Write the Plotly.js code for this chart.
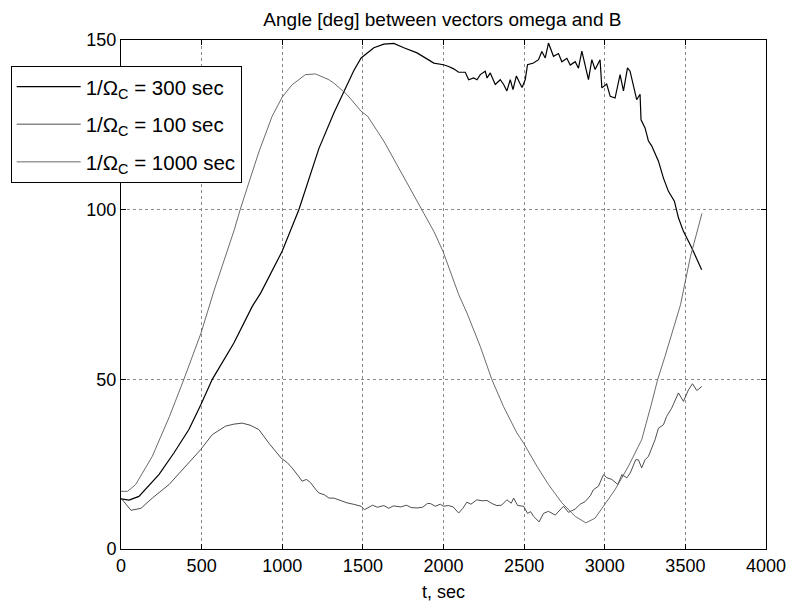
<!DOCTYPE html>
<html>
<head>
<meta charset="utf-8">
<script src="https://cdn.plot.ly/plotly-3.0.1.min.js"></script>
<style>html,body{margin:0;padding:0;background:#fff;}#chart{width:790px;height:607px;}</style>
</head>
<body>
<div id="chart"></div>
<script>
// 1/Omega_C = 300 sec
const t300 = [0,50,111,235,328,421,495,566,700,814,866,1000,1103,1227,1320,1383,1444,1489,1568,1630,1692,1754,1836,1940,2000,2032,2063,2094,2135,2156,2187,2208,2228,2259,2270,2290,2321,2352,2373,2393,2414,2431,2452,2472,2487,2507,2521,2558,2589,2610,2631,2651,2682,2713,2734,2765,2786,2817,2837,2858,2879,2899,2920,2940,2971,2982,3012,3034,3064,3095,3116,3141,3157,3178,3198,3219,3225,3250,3271,3291,3312,3333,3364,3395,3432,3457,3488,3540,3601];
const v300 = [14.8,14.4,15.5,21.9,28.3,35.2,42.5,50,60.7,71.5,75.4,87.8,100,118,128.5,135,141,144.7,147.7,148.8,149,147.7,146.2,143.2,142.7,142.2,141.5,140.5,140.5,138.3,138.8,138.3,139.8,140.8,138.8,140.3,136.9,138.3,136.9,135,138.3,135.4,139.4,137.4,136,138.3,142.7,143.2,144.2,146.6,144.7,149.1,145.2,146,143.6,144.6,142.6,143.6,141.7,146.7,142.6,138.3,144.2,141.3,144.2,135.9,137,133.4,132.9,139.8,135,141.8,140.8,136,132.4,134,126.5,124.1,120.2,118.8,116.7,114.3,109.3,105.4,102.5,97.6,93.6,88.7,82.3];

// 1/Omega_C = 100 sec
const t100 = [0,62,124,194,298,401,494,566,648,700,751,800,855,917,993,1030,1061,1100,1123,1150,1175,1200,1227,1260,1290,1320,1360,1402,1440,1489,1510,1530,1560,1590,1630,1660,1690,1734,1770,1800,1837,1870,1900,1918,1950,1980,2000,2030,2060,2094,2120,2145,2170,2207,2240,2270,2300,2331,2360,2393,2420,2435,2460,2497,2521,2540,2559,2593,2620,2651,2693,2744,2775,2817,2848,2879,2910,2930,2961,2992,3013,3044,3081,3106,3137,3158,3192,3209,3229,3250,3271,3312,3333,3364,3384,3415,3457,3488,3519,3544,3571,3602];
const v100 = [15,11.4,12,15,19,24.4,29.3,33.7,36.2,36.8,37.1,36.5,35.2,31.2,26.8,25.5,23.9,21.5,20,20.5,19.6,18,16.5,16,15,15,14.2,13.6,13.2,12.6,11.6,12.1,12.9,12.3,12.8,12,12.7,12.4,12.9,12.2,12.1,12.3,13.4,13.4,12.6,13.2,12.6,12.8,12.4,10.6,12,13.8,13.2,14.5,14.2,14.3,13.4,12.8,12.9,14.5,13.5,15,12.8,12.6,10.5,11,9.6,8,10.5,11.1,10,12.6,10.8,11.8,13.2,14,15.7,17.5,18.5,21.9,21,20.5,19,21.9,21,22.4,26.3,26.3,23.9,26.3,27.3,32.2,35.6,36.6,39.1,41.5,46,43.5,46.9,48.7,46.7,47.9];

// 1/Omega_C = 1000 sec
const t1000 = [0,41,91,194,300,390,496,578,702,739,800,855,937,1000,1061,1144,1206,1289,1320,1402,1489,1530,1630,1733,1867,1940,1997,2094,2145,2228,2300,2372,2455,2497,2579,2651,2734,2817,2883,2940,2992,3064,3147,3229,3291,3328,3374,3426,3470,3500,3531,3603];
const v1000 = [17,17,19,27.3,39,50,63.6,76.3,94,100,109,117,127.5,133.2,136.8,139.8,140,138.3,137.3,133.9,129,127.5,120.2,111.3,100,93.6,87.7,75,69.6,59.7,49.9,42,34.2,31.2,24.4,19,13.6,9.6,7.7,9.1,12.6,17.5,24.4,32.2,43,49.9,56.8,65.1,72,79,86.1,98.9];

const seriesNames = ['1/\u03A9<sub>C</sub> = 300 sec','1/\u03A9<sub>C</sub> = 100 sec','1/\u03A9<sub>C</sub> = 1000 sec'];
const xTicks = [0,500,1000,1500,2000,2500,3000,3500,4000];
const yTicks = [0,50,100,150];

const FONT = 'Liberation Sans, Arial, Helvetica, sans-serif';

const traces = [
  {x:t300, y:v300, name:seriesNames[0], legendgroup:'a', mode:'lines', line:{color:'#000000', width:1.2}},
  {x:t100, y:v100, name:seriesNames[1], legendgroup:'b', mode:'lines', line:{color:'#3a3a3a', width:0.9}},
  {x:t1000, y:v1000, name:seriesNames[2], legendgroup:'c', mode:'lines', line:{color:'#5a5a5a', width:0.9}}
];

const axisCommon = {
  showline:true, linecolor:'#000', linewidth:1, mirror:'ticks',
  ticks:'inside', ticklen:5, tickcolor:'#000', tickwidth:1,
  showgrid:true, gridcolor:'#8a8a8a', griddash:'dot', gridwidth:1,
  zeroline:false, tickfont:{family:FONT, size:18, color:'#000'}
};

const layout = {
  width:790, height:607,
  margin:{l:120, r:24, t:40, b:58},
  paper_bgcolor:'#fff', plot_bgcolor:'#fff',
  font:{family:FONT, color:'#000'},
  title:{text:'Angle [deg] between vectors omega and B', font:{family:FONT, size:19, color:'#000'}, x:0.56, xanchor:'center', y:0.968, yanchor:'middle'},
  xaxis:Object.assign({}, axisCommon, {range:[0,4000], tickvals:xTicks, ticktext:xTicks.map(String), title:{text:'t, sec', font:{family:FONT, size:18}, standoff:10}}),
  yaxis:Object.assign({}, axisCommon, {range:[0,150], tickvals:yTicks, ticktext:yTicks.map(String)}),
  showlegend:true,
  legend:{x:-0.1692, xanchor:'left', y:0.9495, yanchor:'top', bgcolor:'#fff', bordercolor:'#000', borderwidth:1,
          font:{family:FONT, size:20.5, color:'#000'}, tracegroupgap:8, itemwidth:64}
};

Plotly.newPlot('chart', traces, layout, {displayModeBar:false, staticPlot:true});
</script>
</body>
</html>
